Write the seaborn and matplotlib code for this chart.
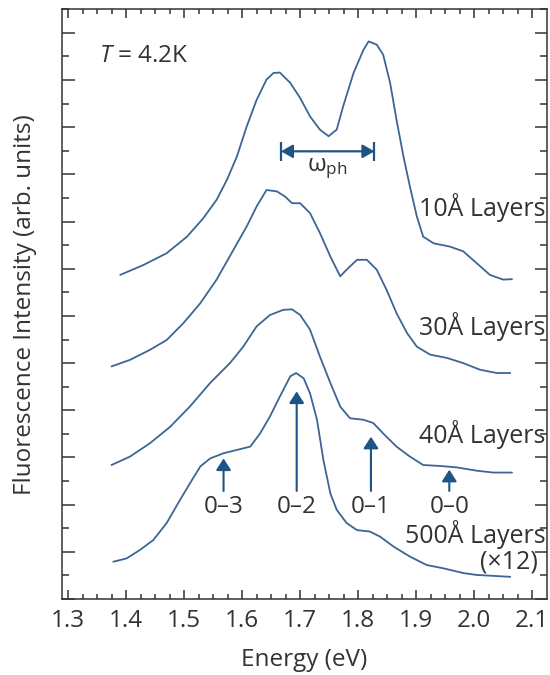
import numpy as np
import pandas as pd
import seaborn as sns
import matplotlib.pyplot as plt
from matplotlib.ticker import MultipleLocator

# spectra (energy in eV, intensity in arb. units, offset per sample)
e_10 = [1.390, 1.430, 1.470, 1.505, 1.533, 1.556, 1.574, 1.591, 1.608, 1.625, 1.642, 1.654,
        1.665, 1.683, 1.700, 1.717, 1.734, 1.749, 1.763, 1.774, 1.792, 1.809, 1.818, 1.832,
        1.843, 1.855, 1.866, 1.878, 1.889, 1.901, 1.912, 1.930, 1.958, 1.981, 2.004, 2.027,
        2.050, 2.065]
i_10 = [6.87, 7.08, 7.33, 7.68, 8.07, 8.46, 8.89, 9.38, 10.02, 10.58, 11.01, 11.15,
        11.16, 10.94, 10.62, 10.23, 9.95, 9.81, 9.95, 10.44, 11.15, 11.64, 11.82, 11.75,
        11.54, 10.94, 10.16, 9.38, 8.75, 8.11, 7.68, 7.54, 7.47, 7.37, 7.12, 6.87,
        6.77, 6.78]

e_30 = [1.375, 1.407, 1.441, 1.470, 1.499, 1.528, 1.556, 1.585, 1.608, 1.625, 1.642, 1.660,
        1.674, 1.686, 1.700, 1.717, 1.734, 1.752, 1.769, 1.780, 1.798, 1.815, 1.832, 1.849,
        1.866, 1.884, 1.901, 1.924, 1.953, 1.981, 2.010, 2.039, 2.062]
i_30 = [4.93, 5.07, 5.28, 5.49, 5.85, 6.27, 6.77, 7.40, 7.90, 8.32, 8.67, 8.64,
        8.53, 8.39, 8.39, 8.18, 7.76, 7.26, 6.84, 6.98, 7.19, 7.19, 6.98, 6.55,
        6.06, 5.64, 5.35, 5.18, 5.11, 5.00, 4.86, 4.79, 4.79]

e_40 = [1.375, 1.407, 1.441, 1.476, 1.510, 1.545, 1.579, 1.602, 1.625, 1.648, 1.671, 1.686,
        1.700, 1.717, 1.734, 1.752, 1.769, 1.786, 1.809, 1.826, 1.843, 1.866, 1.889, 1.912,
        1.941, 1.970, 2.004, 2.033, 2.065]
i_40 = [2.84, 3.02, 3.30, 3.65, 4.08, 4.58, 5.00, 5.35, 5.78, 6.02, 6.13, 6.14,
        6.02, 5.71, 5.14, 4.58, 4.08, 3.83, 3.80, 3.73, 3.51, 3.23, 3.02, 2.84,
        2.82, 2.79, 2.72, 2.68, 2.68]

e_500 = [1.378, 1.401, 1.424, 1.447, 1.470, 1.493, 1.510, 1.528, 1.545, 1.568, 1.591, 1.614,
         1.631, 1.648, 1.665, 1.683, 1.693, 1.706, 1.717, 1.729, 1.740, 1.752, 1.763, 1.780,
         1.798, 1.820, 1.838, 1.861, 1.889, 1.918, 1.947, 1.981, 2.004, 2.033, 2.062]
i_500 = [0.79, 0.86, 1.04, 1.25, 1.61, 2.10, 2.45, 2.81, 2.98, 3.09, 3.16, 3.23,
         3.51, 3.87, 4.29, 4.72, 4.79, 4.68, 4.36, 3.80, 2.95, 2.24, 1.89, 1.61,
         1.46, 1.43, 1.32, 1.11, 0.90, 0.72, 0.65, 0.55, 0.51, 0.49, 0.47]

sample_names = ["10Å Layers", "30Å Layers", "40Å Layers", "500Å Layers"]
sample_label_y = [8.29, 5.78, 3.48, 1.36]

# vibronic transitions marked on the 500Å spectrum
trans_labels = ["0–3", "0–2", "0–1", "0–0"]
trans_e = [1.568, 1.694, 1.822, 1.957]
trans_top = [2.98, 4.40, 3.44, 2.74]
trans_tail = 2.29
trans_label_y = 1.96

# phonon spacing marker
wph_left, wph_right, wph_y = 1.667, 1.828, 9.49

curve_color = "#3d6594"
arrow_color = "#1d5485"
ink = "#333333"
fs = 17.5

df = pd.concat([
    pd.DataFrame({"energy": e, "intensity": i, "sample": s})
    for e, i, s in zip([e_10, e_30, e_40, e_500], [i_10, i_30, i_40, i_500], sample_names)
])

sns.set_style("ticks")
plt.rcParams["font.family"] = ["Open Sans", "DejaVu Sans"]
plt.rcParams["mathtext.fontset"] = "custom"
plt.rcParams["mathtext.it"] = "Open Sans:italic"
plt.rcParams["mathtext.rm"] = "Open Sans"
plt.rcParams["text.color"] = ink
plt.rcParams["axes.labelcolor"] = ink

fig = plt.figure(figsize=(5.5, 6.75), dpi=100)
ax = fig.add_axes([0.1133, 0.1126, 0.8807, 0.8736])

for s in sample_names:
    sns.lineplot(data=df[df["sample"] == s], x="energy", y="intensity", color=curve_color,
                 lw=1.3, estimator=None, sort=False, ax=ax)

ax.set_xlim(1.2902, 2.1248)
ax.set_ylim(0, 12.5)
ax.xaxis.set_minor_locator(MultipleLocator(0.025))
ax.yaxis.set_major_locator(MultipleLocator(1))
ax.yaxis.set_minor_locator(MultipleLocator(0.5))
xt = np.arange(1.3, 2.11, 0.1)
ax.set_xticks(xt)
ax.set_xticklabels([f"{v:.1f}" for v in xt])
ax.tick_params(axis="x", which="both", direction="in", top=True, bottom=True,
               colors=ink, labelsize=fs, pad=7)
ax.tick_params(axis="x", which="major", length=6.5, width=1.1)
ax.tick_params(axis="x", which="minor", length=3.6, width=1.1)
ax.tick_params(axis="y", which="both", direction="in", left=True, right=True,
               labelleft=False, colors=ink)
ax.tick_params(axis="y", which="major", length=9, width=1.1)
ax.tick_params(axis="y", which="minor", length=4.8, width=1.1)
for sp in ax.spines.values():
    sp.set_color(ink)
    sp.set_linewidth(1.1)

ax.set_xlabel("Energy (eV)", fontsize=fs)
ax.set_ylabel("Fluorescence Intensity (arb. units)", fontsize=fs)
ax.xaxis.set_label_coords(0.5, -0.083)
ax.yaxis.set_label_coords(-0.052, 0.5)

ax.text(1.353, 11.5, "$T$ = 4.2K", fontsize=fs, va="center", ha="left")

for name, ly in zip(sample_names, sample_label_y):
    ax.text(2.123, ly, name, fontsize=18, ha="right", va="center")
ax.text(2.110, 0.79, "(×12)", fontsize=18, ha="right", va="center")

for lab, xe, top in zip(trans_labels, trans_e, trans_top):
    ax.annotate("", xy=(xe, top), xytext=(xe, trans_tail),
                arrowprops=dict(arrowstyle="-|>,head_length=0.7,head_width=0.45",
                                color=arrow_color, lw=1.5, shrinkA=0, shrinkB=0,
                                mutation_scale=10))
    ax.text(xe, trans_label_y, lab, fontsize=fs, ha="center", va="center")

ax.annotate("", xy=(wph_left, wph_y), xytext=(wph_right, wph_y),
            arrowprops=dict(arrowstyle="<|-|>,head_length=0.7,head_width=0.4",
                            color=arrow_color, lw=1.6, shrinkA=0, shrinkB=0,
                            mutation_scale=10))
ax.vlines([wph_left, wph_right], wph_y - 0.2, wph_y + 0.2, color=arrow_color, lw=1.6)
ax.text((wph_left + wph_right) / 2, 9.12, r"ω$_{\mathrm{ph}}$", fontsize=fs,
        ha="center", va="center")

fig.savefig("out.png", dpi=100)
